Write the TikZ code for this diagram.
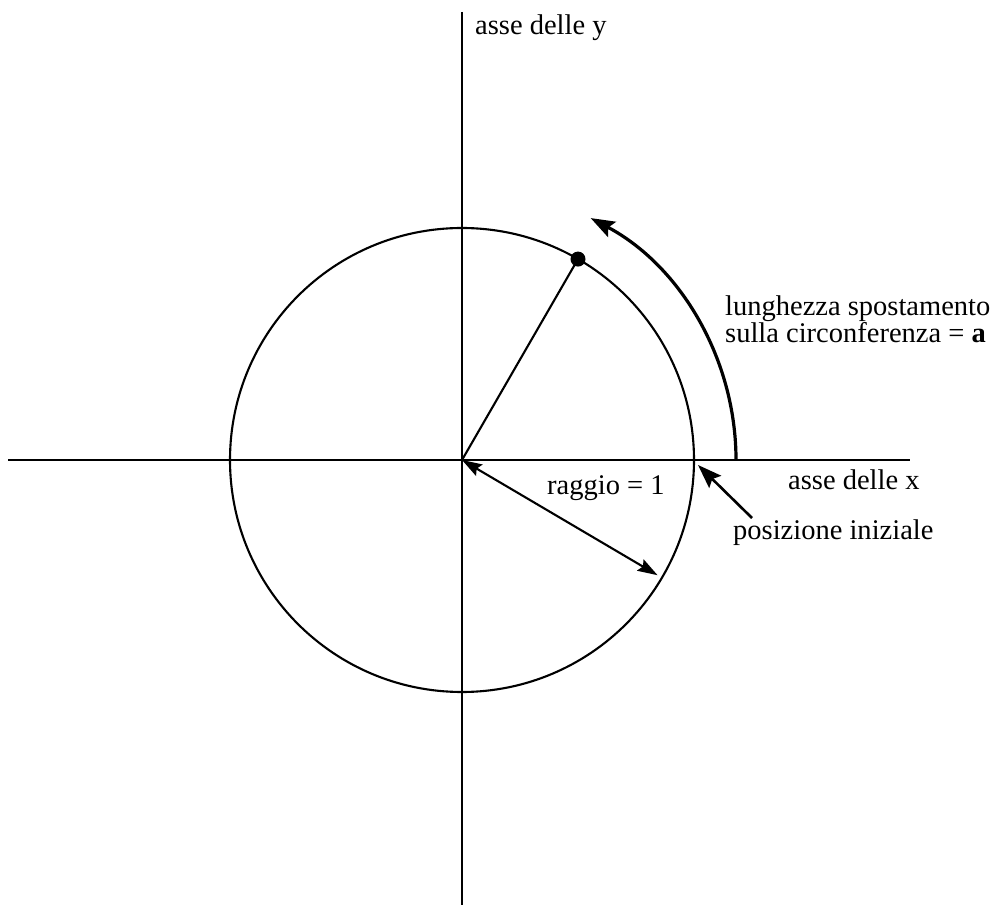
\documentclass[tikz,border=0pt]{standalone}
\usepackage{fontspec}
\setmainfont{Liberation Serif}
\usetikzlibrary{arrows.meta,calc}
\begin{document}
\begin{tikzpicture}[x=1pt,y=1pt,
  axis/.style={line width=2.6pt},
  circ/.style={line width=2.1pt},
  arr/.style={line width=2.6pt,-{Stealth[length=24pt,width=17pt,inset=4pt]}},
  darr/.style={line width=2.1pt,{Stealth[length=20pt,width=13pt,inset=3pt]}-{Stealth[length=20pt,width=13pt,inset=3pt]}},
  lbl/.style={anchor=base west,inner sep=0pt,font=\fontsize{28.5}{27}\selectfont,align=left}]
\useasboundingbox (0,0) rectangle (995,905);
\coordinate (O) at (462,445);
\coordinate (ytop) at (462,893);
\coordinate (ybot) at (462,0);
\coordinate (xl) at (8,445);
\coordinate (xr) at (910,445);
\coordinate (P) at ($(O)+(60:232)$);
\coordinate (R) at ($(O)+(-30.5:227)$);
\coordinate (A0) at ($(O)+(0:274)$);
\coordinate (I) at (698,440);
\coordinate (Is) at (752,387);
% axes
\draw[axis] (ytop) -- (ybot);
\draw[axis] (xl) -- (xr);
% circle
\draw[circ] (O) circle[radius=232];
% radius to point
\draw[circ] (O) -- (P);
\fill (P) circle[radius=7.5];
% arc arrow
\draw[arr,line width=3.2pt] (A0) arc[start angle=0,end angle=62,radius=274];
% raggio arrow
\draw[darr] (O) -- (R);
% posizione iniziale arrow
\draw[arr] (Is) -- (I);
% labels
\node[lbl] (ly) at (475,870) {asse delle y};
\node[lbl] (lx) at (788,415) {asse delle x};
\node[lbl] (lp) at (733,365) {posizione iniziale};
\node[lbl] (lr) at (547,410) {raggio = 1};
\node[lbl] (ll) at (725,589) {lunghezza spostamento};
\node[lbl] (ls) at (725,562) {sulla circonferenza = \textbf{a}};
\end{tikzpicture}
\end{document}
